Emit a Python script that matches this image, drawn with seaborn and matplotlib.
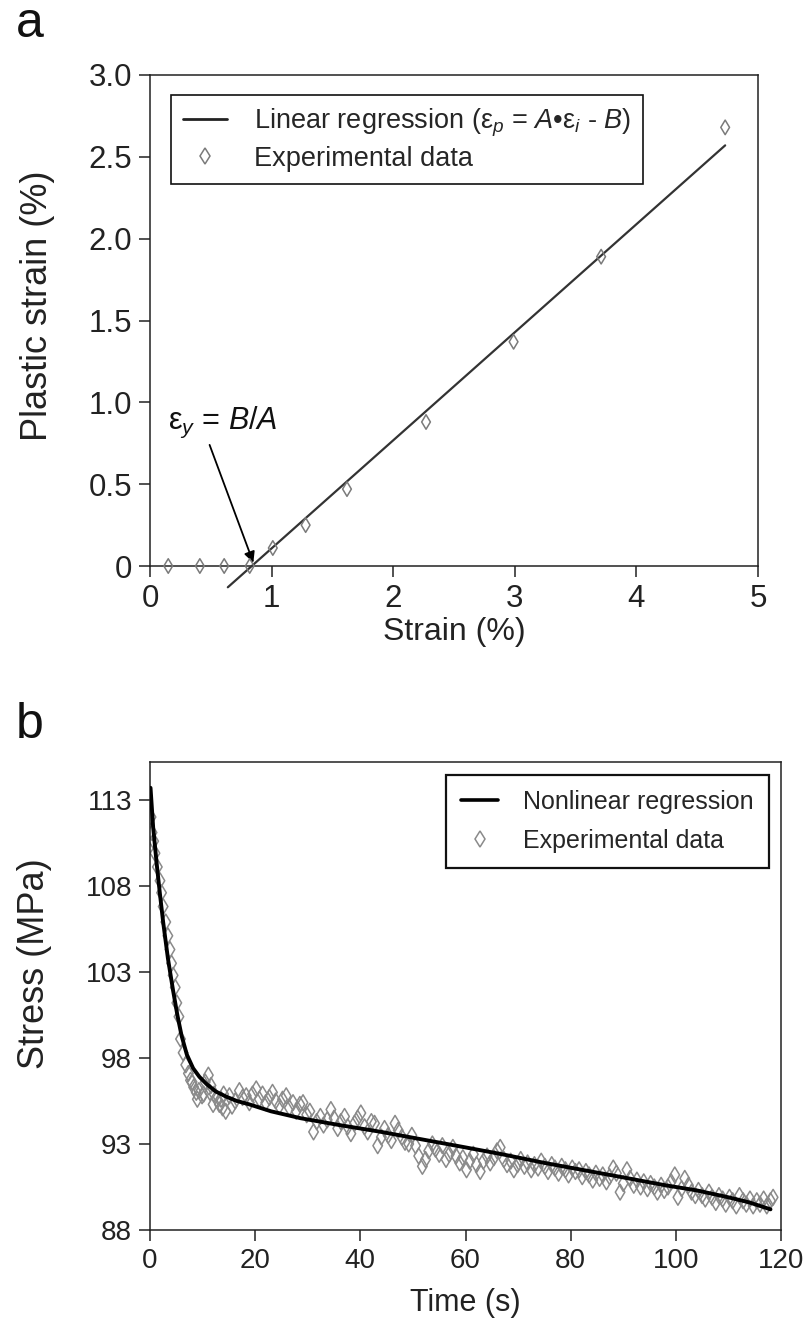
import matplotlib
matplotlib.use("Agg")
import matplotlib.pyplot as plt
import seaborn as sns
from matplotlib.lines import Line2D

# ---------------- data: panel a ----------------
strain_pts = [0.15, 0.41, 0.61, 0.82, 1.01, 1.28, 1.62, 2.27, 2.99, 3.71, 4.73]
plastic_pts = [0.0, 0.0, 0.0, 0.0, 0.11, 0.25, 0.47, 0.88, 1.37, 1.89, 2.68]
fit_strain = [0.64, 4.73]
fit_plastic = [-0.13, 2.57]
yield_strain = 0.85
a_xticks = [0, 1, 2, 3, 4, 5]
a_yticks = [0, 0.5, 1.0, 1.5, 2.0, 2.5, 3.0]
a_ytick_labels = ["0", "0.5", "1.0", "1.5", "2.0", "2.5", "3.0"]

# ---------------- data: panel b ----------------
exp_time = [0.2, 0.4, 0.7, 0.95, 1.4, 1.9, 2.2, 2.5, 3.0, 3.4, 3.8, 4.1, 4.4, 4.8, 5.1, 5.5,
            5.8, 6.3, 6.8, 7.3, 7.7, 8.0, 8.3, 8.8, 9.0, 9.3, 9.9, 10.2, 10.5, 11.1, 11.4,
            11.6, 12.0, 12.2, 12.7, 13.2, 13.5, 13.8, 14.0, 14.4, 15.1, 15.6, 16.2, 17.0,
            17.6, 18.3, 18.9, 19.5, 20.2, 20.8,
            21.4, 22.0, 22.7, 23.3, 23.9, 24.6, 25.2, 25.9, 26.5, 27.2, 27.8, 28.5, 29.1,
            29.8, 30.4, 31.1, 31.7, 32.4, 33.0, 33.7, 34.4, 35.0, 35.7, 36.3, 37.0, 37.6,
            38.2, 38.9, 39.5, 40.1, 40.8, 41.4, 42.1, 42.7, 43.3, 44.0, 44.6, 45.3, 45.9,
            46.6, 47.2, 47.9, 48.5, 49.2, 49.8, 50.5, 51.1, 51.8, 52.4, 53.0, 53.7, 54.3,
            55.0, 55.6, 56.3, 56.9, 57.6, 58.2, 58.9, 59.5, 60.2, 60.8, 61.5, 62.1, 62.8,
            63.4, 64.1, 64.7, 65.4, 66.0, 66.6, 67.3, 67.9, 68.6, 69.2, 69.9, 70.5, 71.2,
            71.8, 72.5, 73.1, 73.8, 74.4, 75.1, 75.7, 76.4, 77.0, 77.7, 78.3, 79.0, 79.6,
            80.3, 80.9, 81.6, 82.2, 82.9, 83.5, 84.2, 84.8, 85.5, 86.1, 86.8, 87.4, 88.1,
            88.7, 89.4, 90.0, 90.7, 91.3, 92.0, 92.6, 93.3, 93.9, 94.6, 95.2, 95.9, 96.5,
            97.2, 97.8, 98.5, 99.1, 99.8, 100.4, 101.1, 101.7, 102.4, 103.0, 103.7, 104.3,
            105.0, 105.6, 106.3, 106.9, 107.6, 108.2, 108.9, 109.5, 110.2, 110.8, 111.5,
            112.1, 112.8, 113.4, 114.1, 114.7, 115.4, 116.0, 116.7, 117.3, 118.0, 118.5]
exp_stress = [112.0, 111.1, 110.6, 109.9, 109.1, 108.3, 107.6, 106.8, 105.9, 105.1, 104.3,
              103.5, 102.8, 102.1, 101.2, 100.4, 99.1, 98.3, 97.6, 97.1, 96.7, 96.6, 96.3,
              96.0, 95.6, 96.1, 95.8, 95.9, 96.6, 97.0, 96.0, 96.4, 95.3, 95.9, 95.6, 95.3,
              95.6, 95.1, 95.9, 94.9, 95.8, 95.2, 95.5, 96.1,
              95.7, 95.8, 95.4, 95.9, 96.2, 95.6, 95.9, 95.4, 95.7, 96.0, 95.5, 95.2, 95.6,
              95.8, 95.1, 95.4, 94.9, 95.3, 95.4, 94.7, 94.9, 93.7, 94.3, 94.6, 94.1, 94.4,
              95.0, 94.5, 93.9, 94.3, 94.6, 94.0, 93.6, 94.2, 94.5, 94.8, 94.0, 93.7, 94.3,
              94.2, 92.9, 93.4, 93.9, 93.5, 93.2, 94.2, 93.8, 93.4, 93.1, 93.0, 93.5, 92.9,
              92.3, 91.7, 92.1, 92.6, 93.0, 92.7, 92.4, 92.9, 92.1, 92.4, 92.8, 92.3, 91.9,
              92.2, 91.5, 92.0, 92.4, 91.8, 91.4, 92.0, 92.3, 91.9, 92.2, 92.6, 92.8, 92.1,
              91.8, 92.0, 91.5, 91.8, 92.1, 91.7, 91.9, 91.5, 91.8, 91.6, 92.0, 91.7, 91.4,
              91.8, 91.6, 91.3, 91.7, 91.5, 91.2, 91.6, 91.4, 91.5, 91.1, 91.4, 91.2, 90.9,
              91.3, 91.0, 91.2, 90.8, 91.1, 91.6, 91.3, 90.2, 90.7, 91.5, 91.0, 90.6, 90.9,
              90.5, 90.8, 90.4, 90.7, 90.5, 90.2, 90.6, 90.3, 90.5, 90.8, 91.2, 89.9, 90.4,
              91.0, 90.6, 90.2, 90.0, 90.3, 90.0, 89.8, 90.2, 89.9, 89.6, 90.0, 89.8, 89.5,
              89.9, 89.7, 89.4, 90.0, 89.7, 89.5, 89.8, 89.4, 89.7, 89.5, 89.8, 89.4, 89.7,
              89.9]
fit_time = [0.1, 0.6, 1.3, 1.9, 2.5, 3.4, 4.4, 5.2, 6.0, 7.0, 8.2, 9.4, 10.7, 12.5, 14.5,
            16.5, 18.9, 23.0, 28.6, 36.0, 44.0, 52.0, 60.0, 67.0, 75.0, 83.0, 91.0, 98.0,
            104.0, 110.0, 114.0, 118.0]
fit_stress = [113.7, 111.4, 109.2, 107.5, 105.9, 103.8, 101.9, 100.5, 99.3, 98.2, 97.4,
              96.9, 96.5, 96.05, 95.75, 95.5, 95.3, 94.9, 94.5, 94.1, 93.7, 93.25, 92.8,
              92.4, 91.9, 91.45, 91.0, 90.6, 90.3, 89.9, 89.6, 89.2]
b_xticks = [0, 20, 40, 60, 80, 100, 120]
b_yticks = [88, 93, 98, 103, 108, 113]

# ---------------- style ----------------
sns.set_theme(style="ticks")
plt.rcParams["font.family"] = ["Liberation Sans", "DejaVu Sans"]
plt.rcParams["mathtext.fontset"] = "custom"
plt.rcParams["mathtext.rm"] = "Liberation Sans"
plt.rcParams["mathtext.it"] = "Liberation Sans:italic"
plt.rcParams["axes.edgecolor"] = "#222222"
plt.rcParams["axes.linewidth"] = 1.1

W, H = 811, 1340
fig = plt.figure(figsize=(W / 100, H / 100), dpi=100)

def box(l, t, r, b):
    return [l / W, 1 - b / H, (r - l) / W, (b - t) / H]

ax_a = fig.add_axes(box(150, 75, 758, 566))
ax_b = fig.add_axes(box(150, 762, 781, 1230))

mk_edge = "#7a7a7a"

# ---- panel a ----
sns.lineplot(x=fit_strain, y=fit_plastic, ax=ax_a, color="#333333", lw=1.6,
             estimator=None, clip_on=False, zorder=3)
sns.scatterplot(x=strain_pts, y=plastic_pts, ax=ax_a, marker="d", s=55,
                color=mk_edge, linewidth=1.1, clip_on=False, zorder=4)
ax_a.collections[-1].set_facecolor("none")
ax_a.collections[-1].set_edgecolor(mk_edge)
ax_a.set_xlim(0, 5)
ax_a.set_ylim(0, 3.0)
ax_a.set_xticks(a_xticks)
ax_a.set_xticklabels([str(v) for v in a_xticks])
ax_a.set_yticks(a_yticks)
ax_a.set_yticklabels(a_ytick_labels)
ax_a.set_xlabel("Strain (%)", fontsize=23, labelpad=2, color="#222222")
ax_a.set_ylabel("Plastic strain (%)", fontsize=26, color="#222222")
ax_a.yaxis.set_label_coords((55 - 150) / 608, 0.53)
ax_a.tick_params(axis="both", direction="out", length=8, width=1.1,
                 labelsize=22.5, pad=5, colors="#222222")
ax_a.text(0.15, 0.88, "ε$_y$ = $B/A$", fontsize=22, color="#111111", va="center")
ax_a.annotate("", xy=(yield_strain, 0.02), xytext=(0.49, 0.74),
              arrowprops=dict(arrowstyle="-|>", color="black", lw=1.3,
                              mutation_scale=16, shrinkA=0, shrinkB=0))

h_a = [Line2D([], [], color="#222222", lw=2.0),
       Line2D([], [], ls="none", marker="d", markersize=8, markerfacecolor="none",
              markeredgecolor=mk_edge, markeredgewidth=1.1)]
leg_a = ax_a.legend(h_a, ["Linear regression (ε$_p$ = $A$•ε$_i$ - $B$)", "Experimental data"],
                    loc="upper left", bbox_to_anchor=(0.035, 0.96), borderaxespad=0,
                    fontsize=19.5, frameon=True, fancybox=False, edgecolor="#111111",
                    framealpha=1, handlelength=1.6, handletextpad=1.0,
                    borderpad=0.45, labelspacing=0.25)
leg_a.get_frame().set_linewidth(1.2)

# ---- panel b ----
sns.scatterplot(x=exp_time, y=exp_stress, ax=ax_b, marker="d", s=65,
                color="#8a8a8a", linewidth=1.1, zorder=2)
ax_b.collections[-1].set_facecolor("none")
ax_b.collections[-1].set_edgecolor("#8a8a8a")
sns.lineplot(x=fit_time, y=fit_stress, ax=ax_b, color="black", lw=2.8,
             estimator=None, zorder=3)
ax_b.set_xlim(0, 120)
ax_b.set_ylim(88, 115.2)
ax_b.set_xticks(b_xticks)
ax_b.set_yticks(b_yticks)
ax_b.set_xlabel("Time (s)", fontsize=22, labelpad=10, color="#222222")
ax_b.set_ylabel("Stress (MPa)", fontsize=26, color="#222222")
ax_b.yaxis.set_label_coords((52 - 150) / 631, 0.57)
ax_b.tick_params(axis="both", direction="out", length=8, width=1.1,
                 labelsize=20, pad=5, colors="#222222")

h_b = [Line2D([], [], color="black", lw=2.6),
       Line2D([], [], ls="none", marker="d", markersize=8, markerfacecolor="none",
              markeredgecolor="#8a8a8a", markeredgewidth=1.1)]
leg_b = ax_b.legend(h_b, ["Nonlinear regression", "Experimental data"],
                    loc="upper right", bbox_to_anchor=(0.981, 0.972), borderaxespad=0,
                    fontsize=18, frameon=True, fancybox=False, edgecolor="#111111",
                    framealpha=1, handlelength=1.5, handletextpad=1.0,
                    borderpad=0.6, labelspacing=0.6)
leg_b.get_frame().set_linewidth(1.6)

for ax in (ax_a, ax_b):
    for s in ax.spines.values():
        s.set_visible(True)

fig.text(16 / W, 1 - 37 / H, "a", fontsize=36, va="baseline", ha="left", color="#111111")
fig.text(16 / W, 1 - 738 / H, "b", fontsize=36, va="baseline", ha="left", color="#111111")

fig.savefig("out.png", dpi=100)
